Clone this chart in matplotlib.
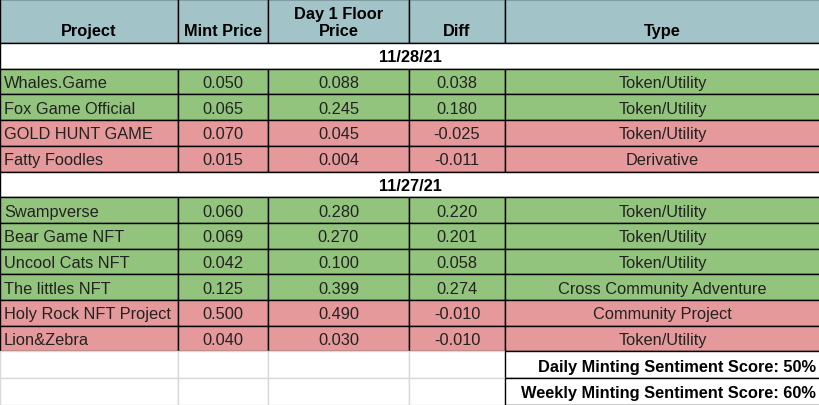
import matplotlib
matplotlib.use("Agg")
import matplotlib.pyplot as plt
from matplotlib.patches import Rectangle

plt.rcParams["font.family"] = ["Liberation Sans", "DejaVu Sans"]

headers = ["Project", "Mint Price", "Day 1 Floor\nPrice", "Diff", "Type"]
sections = ["11/28/21", "11/27/21"]
projects = [
    ["Whales.Game", "Fox Game Official", "GOLD HUNT GAME", "Fatty Foodles"],
    ["Swampverse", "Bear Game NFT", "Uncool Cats NFT", "The littles NFT",
     "Holy Rock NFT Project", "Lion&Zebra"],
]
mint = [[0.050, 0.065, 0.070, 0.015], [0.060, 0.069, 0.042, 0.125, 0.500, 0.040]]
floor = [[0.088, 0.245, 0.045, 0.004], [0.280, 0.270, 0.100, 0.399, 0.490, 0.030]]
diff = [[0.038, 0.180, -0.025, -0.011], [0.220, 0.201, 0.058, 0.274, -0.010, -0.010]]
types = [
    ["Token/Utility", "Token/Utility", "Token/Utility", "Derivative"],
    ["Token/Utility", "Token/Utility", "Token/Utility", "Cross Community Adventure",
     "Community Project", "Token/Utility"],
]
scores = ["Daily Minting Sentiment Score: 50%", "Weekly Minting Sentiment Score: 60%"]

col_x = [0, 178, 268, 409, 505, 820]
HEADER_H = 44
ROW_H = 25.7
GREEN, RED, HEAD = "#93c47d", "#e6999a", "#a2c4c9"
FS = 11.8

fig = plt.figure(figsize=(8.2, 4.06), dpi=100)
ax = fig.add_axes([0, 0, 1, 1])
ax.set_xlim(0, 820)
ax.set_ylim(406, 0)
ax.axis("off")


def cell(x0, x1, y0, y1, color, edge="black", lw=1.0):
    ax.add_patch(Rectangle((x0, y0), x1 - x0, y1 - y0, facecolor=color,
                           edgecolor=edge, linewidth=lw))


# header
for i, h in enumerate(headers):
    cell(col_x[i], col_x[i + 1], 0, HEADER_H, HEAD)
    ax.text((col_x[i] + col_x[i + 1]) / 2, HEADER_H - 5, h, ha="center",
            va="bottom", fontsize=FS, fontweight="bold", linespacing=1.15)

y = HEADER_H
for s, label in enumerate(sections):
    cell(0, 820, y, y + ROW_H, "white")
    ax.text(410, y + ROW_H / 2 + 1, label, ha="center", va="center",
            fontsize=FS, fontweight="bold")
    y += ROW_H
    for r, name in enumerate(projects[s]):
        color = GREEN if diff[s][r] > 0 else RED
        vals = [name, f"{mint[s][r]:.3f}", f"{floor[s][r]:.3f}",
                f"{diff[s][r]:.3f}", types[s][r]]
        for c, v in enumerate(vals):
            cell(col_x[c], col_x[c + 1], y, y + ROW_H, color)
            if c == 0:
                ax.text(col_x[0] + 4, y + ROW_H / 2 + 1, v, ha="left",
                        va="center", fontsize=FS, color="#222222")
            else:
                ax.text((col_x[c] + col_x[c + 1]) / 2, y + ROW_H / 2 + 1, v,
                        ha="center", va="center", fontsize=FS, color="#222222")
        y += ROW_H

# score rows
for sc in scores:
    for c in range(4):
        cell(col_x[c], col_x[c + 1], y, y + ROW_H + 1, "white", edge="#d9d9d9")
    cell(col_x[4], col_x[5], y, y + ROW_H + 1, "white")
    ax.text(col_x[5] - 4, y + ROW_H / 2 + 2, sc, ha="right", va="center",
            fontsize=FS, fontweight="bold")
    y += ROW_H + 1

fig.savefig("out.png", dpi=100)
